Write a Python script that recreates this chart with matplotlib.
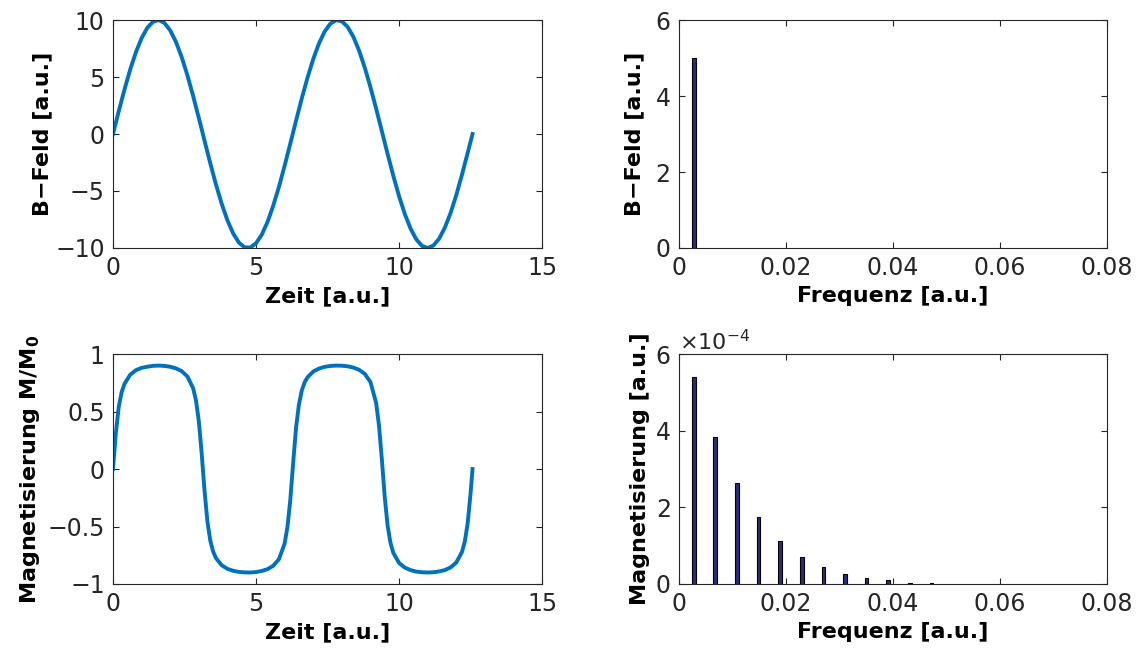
import matplotlib
matplotlib.use('Agg')
import matplotlib.pyplot as plt
from matplotlib.ticker import ScalarFormatter

# time axis and B field
zeit = [0.0, 0.2, 0.4, 0.6, 0.8, 1.0, 1.2, 1.4, 1.6, 1.8, 2.0, 2.2, 2.4, 2.6, 2.8,
        3.0, 3.2, 3.4, 3.6, 3.8, 4.0, 4.2, 4.4, 4.6, 4.8, 5.0, 5.2, 5.4, 5.6, 5.8,
        6.0, 6.2, 6.4, 6.6, 6.8, 7.0, 7.2, 7.4, 7.6, 7.8, 8.0, 8.2, 8.4, 8.6, 8.8,
        9.0, 9.2, 9.4, 9.6, 9.8, 10.0, 10.2, 10.4, 10.6, 10.8, 11.0, 11.2, 11.4,
        11.6, 11.8, 12.0, 12.2, 12.4, 12.57]
b_feld = [0, 1.99, 3.89, 5.65, 7.17, 8.41, 9.32, 9.85, 10.0, 9.74, 9.09, 8.09, 6.76,
          5.16, 3.35, 1.41, -0.58, -2.56, -4.43, -6.12, -7.57, -8.72, -9.52, -9.94,
          -9.96, -9.59, -8.84, -7.73, -6.31, -4.65, -2.79, -0.83, 1.17, 3.12, 4.94,
          6.57, 7.94, 8.99, 9.68, 9.99, 9.89, 9.41, 8.55, 7.34, 5.85, 4.12, 2.23,
          0.25, -1.74, -3.67, -5.44, -7.00, -8.28, -9.23, -9.81, -10.0, -9.79,
          -9.19, -8.23, -6.95, -5.37, -3.58, -1.66, 0]

# magnetisation (bottom left panel), denser near the zero crossings
zeit_m = [0.0, 0.1, 0.2, 0.3, 0.4, 0.6, 0.8, 1.0, 1.2, 1.4, 1.6, 1.8, 2.0, 2.2, 2.4,
          2.6, 2.8, 2.9, 3.0, 3.1, 3.2, 3.3, 3.4, 3.5, 3.6, 3.8, 4.0, 4.2, 4.4, 4.6,
          4.8, 5.0, 5.2, 5.4, 5.6, 5.8, 6.0, 6.1, 6.2, 6.3, 6.4, 6.5, 6.6, 6.7, 6.8,
          7.0, 7.2, 7.4, 7.6, 7.8, 8.0, 8.2, 8.4, 8.6, 8.8, 9.0, 9.2, 9.3, 9.4, 9.5,
          9.6, 9.7, 9.8, 10.0, 10.2, 10.4, 10.6, 10.8, 11.0, 11.2, 11.4, 11.6, 11.8,
          12.0, 12.2, 12.3, 12.4, 12.5, 12.57]
magn = [0, 0.313, 0.54, 0.667, 0.74, 0.82, 0.86, 0.88, 0.89, 0.898, 0.9, 0.897, 0.89,
        0.876, 0.852, 0.806, 0.704, 0.599, 0.418, 0.137, -0.189, -0.455, -0.621,
        -0.717, -0.775, -0.837, -0.868, -0.885, -0.895, -0.899, -0.9, -0.896, -0.887,
        -0.871, -0.842, -0.785, -0.649, -0.502, -0.265, 0.056, 0.359, 0.562, 0.683,
        0.754, 0.798, 0.848, 0.874, 0.889, 0.897, 0.9, 0.899, 0.894, 0.883, 0.864,
        0.829, 0.758, 0.575, 0.378, 0.083, -0.242, -0.489, -0.641, -0.729, -0.816,
        -0.857, -0.879, -0.892, -0.898, -0.9, -0.898, -0.891, -0.879, -0.856, -0.814,
        -0.722, -0.630, -0.473, -0.215, 0]

# spectra (right panels)
freq_b = [0.00275]
amp_b = [5.0]
freq_m = [0.00275, 0.00679, 0.01083, 0.01487, 0.01891, 0.02295, 0.02699, 0.03103,
          0.03507, 0.03911, 0.04315, 0.04719]
amp_m = [5.40e-4, 3.84e-4, 2.63e-4, 1.76e-4, 1.13e-4, 0.71e-4, 0.45e-4, 0.26e-4,
         0.165e-4, 0.10e-4, 0.035e-4, 0.03e-4]

plt.rcParams['font.family'] = ['DejaVu Sans']
plt.rcParams['axes.edgecolor'] = '#262626'
plt.rcParams['xtick.color'] = '#262626'
plt.rcParams['ytick.color'] = '#262626'
plt.rcParams['text.color'] = '#262626'

fig = plt.figure(figsize=(11.38, 6.55), dpi=100)
ax1 = fig.add_axes([0.0993, 0.6214, 0.377, 0.348])
ax2 = fig.add_axes([0.5967, 0.6214, 0.376, 0.348])
ax3 = fig.add_axes([0.0993, 0.1084, 0.377, 0.351])
ax4 = fig.add_axes([0.5967, 0.1084, 0.376, 0.351])

blue = '#0072BD'
bar_col = '#2c2c82'
tick_fs = 17
lab_fs = 16

ax1.plot(zeit, b_feld, color=blue, lw=2.8)
ax1.set_xlim(0, 15)
ax1.set_ylim(-10, 10)
ax1.set_xticks([0, 5, 10, 15])
ax1.set_yticks([-10, -5, 0, 5, 10])
ax1.set_xlabel('Zeit [a.u.]', fontweight='bold')
ax1.set_ylabel('B\u2212Feld [a.u.]', fontweight='bold', labelpad=2)

ax2.bar(freq_b, amp_b, width=0.0007, color=bar_col, edgecolor='black', linewidth=0.8)
ax2.set_xlim(0, 0.08)
ax2.set_ylim(0, 6)
ax2.set_xticks([0, 0.02, 0.04, 0.06, 0.08])
ax2.set_xticklabels(['0', '0.02', '0.04', '0.06', '0.08'])
ax2.set_yticks([0, 2, 4, 6])
ax2.set_xlabel('Frequenz [a.u.]', fontweight='bold')
ax2.set_ylabel('B\u2212Feld [a.u.]', fontweight='bold', labelpad=8)

ax3.plot(zeit_m, magn, color=blue, lw=2.8)
ax3.set_xlim(0, 15)
ax3.set_ylim(-1, 1)
ax3.set_xticks([0, 5, 10, 15])
ax3.set_yticks([-1, -0.5, 0, 0.5, 1])
ax3.set_yticklabels(['\u22121', '\u22120.5', '0', '0.5', '1'])
ax3.set_xlabel('Zeit [a.u.]', fontweight='bold')
ax3.set_ylabel(r'Magnetisierung M/M$_\mathbf{0}$', fontweight='bold')

ax4.bar(freq_m, amp_m, width=0.0007, color=bar_col, edgecolor='black', linewidth=0.8)
ax4.set_xlim(0, 0.08)
ax4.set_ylim(0, 6e-4)
ax4.set_xticks([0, 0.02, 0.04, 0.06, 0.08])
ax4.set_xticklabels(['0', '0.02', '0.04', '0.06', '0.08'])
ax4.set_yticks([0, 2e-4, 4e-4, 6e-4])
sf = ScalarFormatter(useMathText=True)
sf.set_powerlimits((-3, 3))
ax4.yaxis.set_major_formatter(sf)
ax4.yaxis.get_offset_text().set_fontsize(lab_fs)
ax4.set_xlabel('Frequenz [a.u.]', fontweight='bold')
ax4.set_ylabel('Magnetisierung [a.u.]', fontweight='bold')

for ax in (ax1, ax2, ax3, ax4):
    ax.tick_params(direction='in', top=True, right=True, labelsize=tick_fs,
                   length=4, width=0.8, pad=6)
    ax.xaxis.label.set_size(lab_fs)
    ax.yaxis.label.set_size(lab_fs)
    for s in ax.spines.values():
        s.set_linewidth(0.8)

fig.savefig('out.png', dpi=100)
